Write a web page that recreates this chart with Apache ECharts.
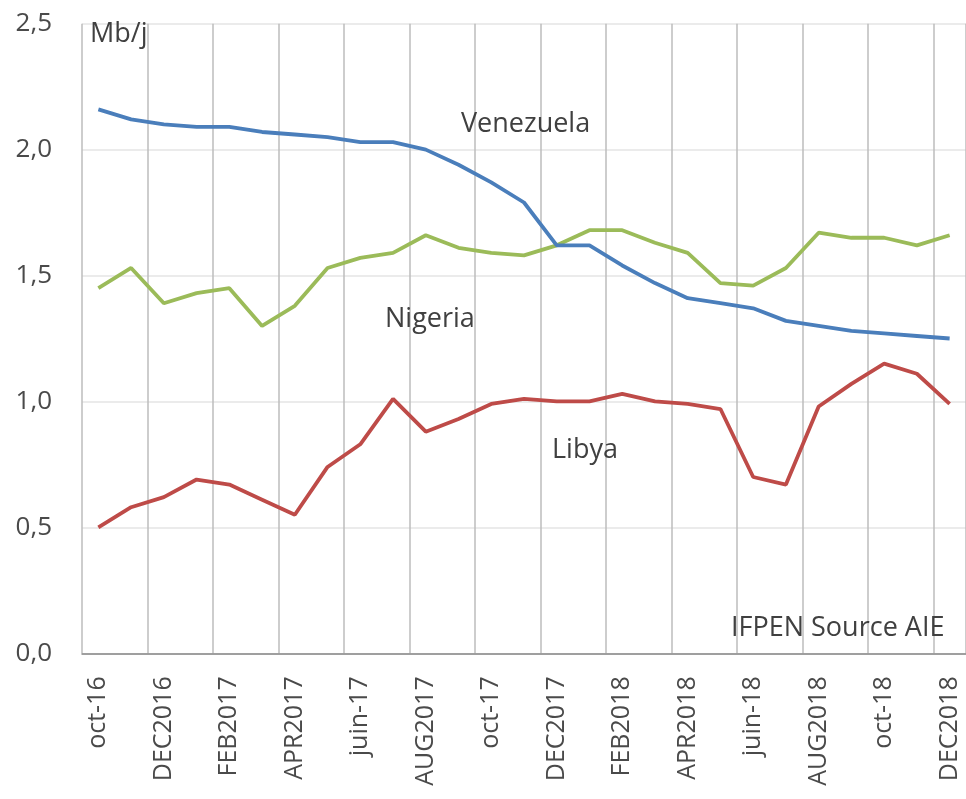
<!DOCTYPE html>
<html>
<head>
<meta charset="utf-8">
<script src="https://cdn.jsdelivr.net/npm/echarts@6/dist/echarts.min.js"></script>
<style>
html,body{margin:0;padding:0;background:#fff;}
#chart{width:966px;height:799px;}
</style>
</head>
<body>
<div id="chart"></div>
<script>
const months = ['oct-16','nov-16','DEC2016','janv-17','FEB2017','mars-17','APR2017','mai-17','juin-17','juil-17','AUG2017','sept-17','oct-17','nov-17','DEC2017','janv-18','FEB2018','mars-18','APR2018','mai-18','juin-18','juil-18','AUG2018','sept-18','oct-18','nov-18','DEC2018'];
const venezuela = [2.16,2.12,2.10,2.09,2.09,2.07,2.06,2.05,2.03,2.03,2.00,1.94,1.87,1.79,1.62,1.62,1.54,1.47,1.41,1.39,1.37,1.32,1.30,1.28,1.27,1.26,1.25];
const nigeria = [1.45,1.53,1.39,1.43,1.45,1.30,1.38,1.53,1.57,1.59,1.66,1.61,1.59,1.58,1.62,1.68,1.68,1.63,1.59,1.47,1.46,1.53,1.67,1.65,1.65,1.62,1.66];
const libya = [0.50,0.58,0.62,0.69,0.67,0.61,0.55,0.74,0.83,1.01,0.88,0.93,0.99,1.01,1.00,1.00,1.03,1.00,0.99,0.97,0.70,0.67,0.98,1.07,1.15,1.11,0.99];
const yTicks = [0, 0.5, 1.0, 1.5, 2.0, 2.5];
const unitLabel = 'Mb/j';
const sourceLabel = 'IFPEN Source AIE';
const seriesNames = ['Venezuela','Nigeria','Libya'];

const FONT = '"Open Sans", "Noto Sans", sans-serif';
const chart = echarts.init(document.getElementById('chart'), null, {renderer:'canvas'});

function annot(text, x, y) {
  return {type:'text', x:x, y:y, z:100,
    style:{text:text, fontFamily:FONT, fontSize:27, fill:'#404040', align:'left', verticalAlign:'middle'}};
}

chart.setOption({
  backgroundColor:'#ffffff',
  animation:false,
  grid:{left:82, top:23.7, width:885.6, height:629.6, containLabel:false},
  xAxis:{
    type:'category', data:months, boundaryGap:true,
    axisLine:{show:true, lineStyle:{color:'#868686', width:1.5}},
    axisTick:{show:false, interval:1},
    axisLabel:{interval:1, rotate:90, margin:23, fontFamily:FONT, fontSize:25, color:'#4a4a4a'},
    splitLine:{show:true, interval:1, lineStyle:{color:'#bdbdbd', width:1.5}}
  },
  yAxis:{
    type:'value', min:yTicks[0], max:yTicks[yTicks.length-1], interval:0.5,
    axisLine:{show:false}, axisTick:{show:false},
    axisLabel:{margin:30, fontFamily:FONT, fontSize:26, color:'#4a4a4a',
      formatter:function(v){return v.toFixed(1).replace('.',',');}},
    splitLine:{show:true, lineStyle:{color:'#e4e4e4', width:1.5}}
  },
  series:[
    {name:seriesNames[2], type:'line', data:libya, symbol:'none', lineStyle:{color:'#be4b48', width:3.8}, itemStyle:{color:'#be4b48'}},
    {name:seriesNames[1], type:'line', data:nigeria, symbol:'none', lineStyle:{color:'#9bbb59', width:3.8}, itemStyle:{color:'#9bbb59'}},
    {name:seriesNames[0], type:'line', data:venezuela, symbol:'none', lineStyle:{color:'#4a7ebb', width:3.8}, itemStyle:{color:'#4a7ebb'}}
  ],
  graphic:[
    annot(unitLabel, 90, 34),
    annot(seriesNames[0], 461, 124),
    annot(seriesNames[1], 385, 319),
    annot(seriesNames[2], 552, 450),
    annot(sourceLabel, 731, 628)
  ]
});
</script>
</body>
</html>
